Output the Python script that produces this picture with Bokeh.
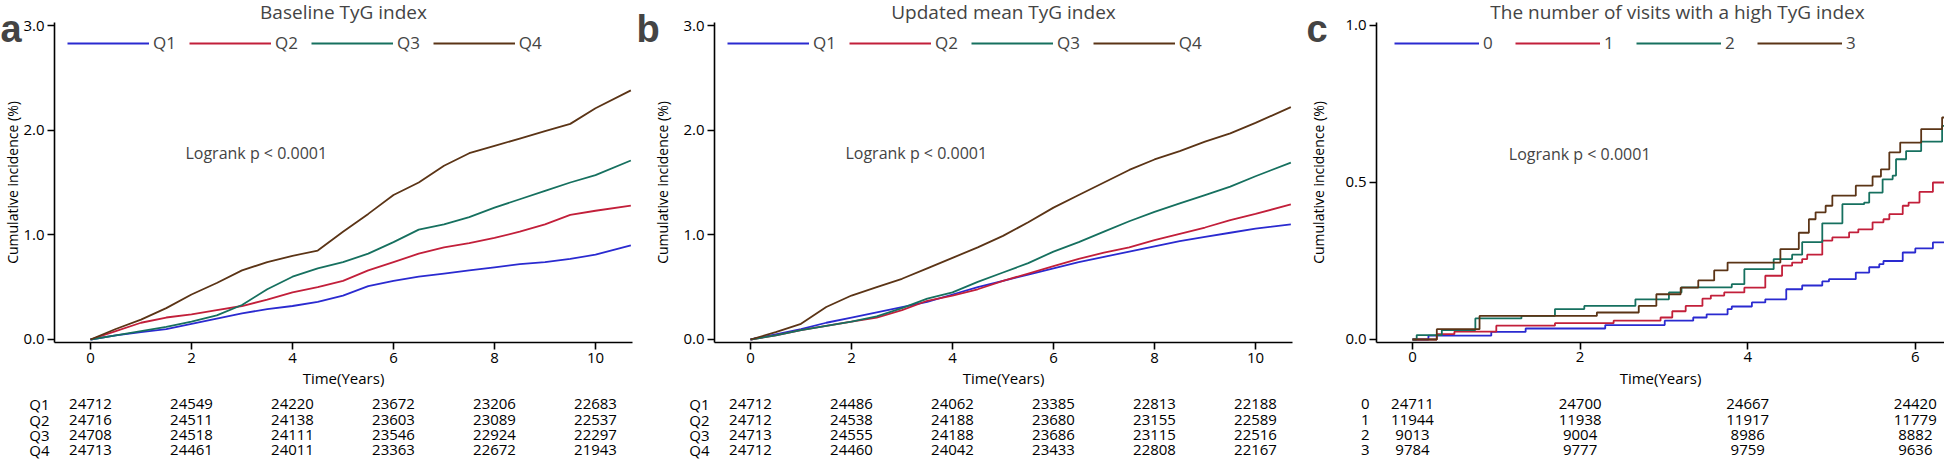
from bokeh.plotting import figure
from bokeh.models import (Range1d, Legend, LegendItem, Label, FixedTicker, LinearAxis,
                          ColumnDataSource, NumeralTickFormatter)
from bokeh.layouts import row
from bokeh.embed import file_html
from bokeh.resources import INLINE
from bokeh.core.properties import value

FONT = "Open Sans"
COLORS = ["#2a2ad0", "#c21f3a", "#16705f", "#5b3416"]
H = 460

# ---------------- Panel a: Baseline TyG index ----------------
a_title = "Baseline TyG index"
a_groups = ["Q1", "Q2", "Q3", "Q4"]
a_time = [0, 0.5, 1, 1.5, 2, 2.5, 3, 3.5, 4, 4.5, 5, 5.5, 6, 6.5, 7, 7.5, 8, 8.5, 9, 9.5, 10, 10.7]
a_q1 = [0, 0.04, 0.07, 0.10, 0.15, 0.20, 0.25, 0.29, 0.32, 0.36, 0.42, 0.51, 0.56, 0.60, 0.63, 0.66, 0.69, 0.72, 0.74, 0.77, 0.81, 0.90]
a_q2 = [0, 0.08, 0.16, 0.21, 0.24, 0.28, 0.32, 0.38, 0.45, 0.50, 0.56, 0.66, 0.74, 0.82, 0.88, 0.92, 0.97, 1.03, 1.10, 1.19, 1.23, 1.28]
a_q3 = [0, 0.04, 0.08, 0.12, 0.17, 0.23, 0.33, 0.48, 0.60, 0.68, 0.74, 0.82, 0.93, 1.05, 1.10, 1.17, 1.26, 1.34, 1.42, 1.50, 1.57, 1.71]
a_q4 = [0, 0.10, 0.19, 0.30, 0.43, 0.54, 0.66, 0.74, 0.80, 0.85, 1.03, 1.20, 1.38, 1.50, 1.66, 1.78, 1.85, 1.92, 1.99, 2.06, 2.21, 2.38]
a_risk_time = [0, 2, 4, 6, 8, 10]
a_risk_q1 = [24712, 24549, 24220, 23672, 23206, 22683]
a_risk_q2 = [24716, 24511, 24138, 23603, 23089, 22537]
a_risk_q3 = [24708, 24518, 24111, 23546, 22924, 22297]
a_risk_q4 = [24713, 24461, 24011, 23363, 22672, 21943]

# ---------------- Panel b: Updated mean TyG index ----------------
b_title = "Updated mean TyG index"
b_groups = ["Q1", "Q2", "Q3", "Q4"]
b_time = [0, 0.5, 1, 1.5, 2, 2.5, 3, 3.5, 4, 4.5, 5, 5.5, 6, 6.5, 7, 7.5, 8, 8.5, 9, 9.5, 10, 10.7]
b_q1 = [0, 0.05, 0.10, 0.16, 0.21, 0.26, 0.31, 0.36, 0.43, 0.50, 0.56, 0.62, 0.68, 0.74, 0.79, 0.84, 0.89, 0.94, 0.98, 1.02, 1.06, 1.10]
b_q2 = [0, 0.04, 0.09, 0.13, 0.17, 0.21, 0.28, 0.37, 0.42, 0.48, 0.56, 0.63, 0.70, 0.77, 0.83, 0.88, 0.95, 1.01, 1.07, 1.14, 1.20, 1.29]
b_q3 = [0, 0.04, 0.09, 0.13, 0.17, 0.22, 0.30, 0.39, 0.45, 0.55, 0.64, 0.73, 0.84, 0.93, 1.03, 1.13, 1.22, 1.30, 1.38, 1.46, 1.56, 1.69]
b_q4 = [0, 0.07, 0.15, 0.31, 0.42, 0.50, 0.58, 0.68, 0.78, 0.88, 0.99, 1.12, 1.26, 1.38, 1.50, 1.62, 1.72, 1.80, 1.89, 1.97, 2.07, 2.22]
b_risk_time = [0, 2, 4, 6, 8, 10]
b_risk_q1 = [24712, 24486, 24062, 23385, 22813, 22188]
b_risk_q2 = [24712, 24538, 24188, 23680, 23155, 22589]
b_risk_q3 = [24713, 24555, 24188, 23686, 23115, 22516]
b_risk_q4 = [24712, 24460, 24042, 23433, 22808, 22167]

# ---------------- Panel c: number of visits with a high TyG index ----------------
c_title = "The number of visits with a high TyG index"
c_groups = ["0", "1", "2", "3"]
c0_time = [0, 0.19, 0.94, 1.35, 2.3, 3.01, 3.35, 3.51, 3.76, 3.81, 4.05, 4.21, 4.46, 4.65, 4.89, 4.97, 5.29, 5.45, 5.57, 5.62, 5.85, 6.0, 6.21, 6.36, 6.5]
c0_val = [0, 0.012, 0.024, 0.035, 0.046, 0.060, 0.070, 0.080, 0.097, 0.105, 0.118, 0.128, 0.160, 0.172, 0.185, 0.192, 0.213, 0.230, 0.240, 0.250, 0.277, 0.290, 0.309, 0.317, 0.320]
c1_time = [0, 0.29, 0.5, 1.0, 1.7, 2.4, 2.96, 3.1, 3.26, 3.46, 3.56, 3.72, 3.96, 4.21, 4.41, 4.53, 4.65, 4.71, 4.89, 5.01, 5.21, 5.32, 5.49, 5.62, 5.69, 5.85, 5.92, 6.05, 6.21, 6.36, 6.5]
c1_val = [0, 0.017, 0.025, 0.044, 0.052, 0.060, 0.070, 0.090, 0.107, 0.130, 0.140, 0.150, 0.165, 0.203, 0.235, 0.245, 0.256, 0.270, 0.315, 0.325, 0.341, 0.351, 0.373, 0.383, 0.399, 0.426, 0.436, 0.470, 0.500, 0.521, 0.530]
c2_time = [0, 0.05, 0.35, 0.75, 1.3, 1.7, 2.05, 2.66, 3.06, 3.21, 3.81, 3.96, 4.31, 4.53, 4.65, 4.89, 5.13, 5.39, 5.45, 5.61, 5.73, 5.77, 5.89, 6.07, 6.32, 6.5]
c2_val = [0, 0.014, 0.030, 0.067, 0.075, 0.097, 0.107, 0.128, 0.150, 0.166, 0.176, 0.224, 0.256, 0.270, 0.310, 0.370, 0.431, 0.436, 0.468, 0.510, 0.522, 0.574, 0.600, 0.630, 0.680, 0.700]
c3_time = [0, 0.29, 0.8, 2.2, 2.7, 2.91, 3.2, 3.41, 3.6, 3.76, 4.39, 4.61, 4.73, 4.81, 4.93, 5.01, 5.29, 5.49, 5.59, 5.69, 5.82, 6.07, 6.32, 6.45]
c3_val = [0, 0.033, 0.075, 0.086, 0.107, 0.144, 0.165, 0.188, 0.220, 0.245, 0.288, 0.340, 0.383, 0.405, 0.426, 0.458, 0.490, 0.519, 0.542, 0.596, 0.627, 0.670, 0.707, 0.755]
c_risk_time = [0, 2, 4, 6]
c_risk_0 = [24711, 24700, 24667, 24420]
c_risk_1 = [11944, 11938, 11917, 11779]
c_risk_2 = [9013, 9004, 8986, 8882]
c_risk_3 = [9784, 9777, 9759, 9636]

logrank_text = "Logrank p < 0.0001"


def make_panel(cfg):
    W = cfg["width"]
    p = figure(width=W, height=H, x_range=cfg["x_range"], y_range=cfg["y_range"],
               x_axis_location=None, y_axis_location=None,
               toolbar_location=None, output_backend="svg",
               min_border_left=0, min_border_right=0,
               min_border_top=0, min_border_bottom=0)
    p.outline_line_color = None
    p.background_fill_color = "white"
    p.border_fill_color = "white"
    p.xgrid.visible = False
    p.ygrid.visible = False
    # helper ranges: "px" = pixel layout of the panel, "table" = at-risk table rows
    p.extra_x_ranges = {"px": Range1d(0, W)}
    p.extra_y_ranges = {"px": Range1d(H, 0), "table": Range1d(0.2667, 30.933)}

    x_lo, x_hi = cfg["x_bounds"]
    y_lo, y_hi = cfg["y_bounds"]

    items = []
    for (xs, ys), name, color in zip(cfg["series"], cfg["groups"], COLORS):
        if cfg["step"]:
            r = p.step(xs, ys, mode="after", line_color=color, line_width=1.8)
        else:
            r = p.line(xs, ys, line_color=color, line_width=1.8)
        items.append(LegendItem(label=name, renderers=[r]))

    legend = Legend(items=items, orientation="horizontal", location=cfg["legend_loc"],
                    glyph_width=cfg["glyph_width"], glyph_height=18, label_standoff=4,
                    spacing=cfg["legend_spacing"], padding=0, margin=0,
                    label_text_font=FONT, label_text_font_size="17px",
                    border_line_color=None, background_fill_alpha=0)
    p.add_layout(legend)

    xa = LinearAxis(fixed_location=y_lo, bounds=(x_lo, x_hi),
                    ticker=FixedTicker(ticks=cfg["x_ticks"]), axis_label="Time(Years)")
    ya = LinearAxis(fixed_location=x_lo, bounds=(y_lo, y_hi),
                    ticker=FixedTicker(ticks=cfg["y_ticks"]),
                    formatter=NumeralTickFormatter(format="0.0"),
                    axis_label="Cumulative incidence (%)")
    for ax in (xa, ya):
        ax.axis_line_width = 1.6
        ax.axis_line_color = "black"
        ax.major_tick_line_width = 1.6
        ax.major_tick_line_color = "black"
        ax.major_tick_out = 7
        ax.major_tick_in = 0
        ax.minor_tick_line_color = None
        ax.major_label_text_font = FONT
        ax.major_label_text_font_size = "15px"
        ax.major_label_text_color = "black"
        ax.axis_label_text_font = FONT
        ax.axis_label_text_font_style = "normal"
        ax.axis_label_text_color = "black"
    xa.major_label_standoff = 3
    xa.axis_label_text_font_size = "15px"
    xa.axis_label_standoff = 2
    ya.major_label_standoff = 3
    ya.axis_label_text_font_size = "14px"
    ya.axis_label_standoff = cfg["ylab_standoff"]
    p.add_layout(xa, "below")
    p.add_layout(ya, "left")

    # title and panel letter
    p.add_layout(Label(x=cfg["title_x"], y=11, x_range_name="px", y_range_name="px",
                       text=cfg["title"], text_font=FONT, text_font_size="19px",
                       text_align="center", text_baseline="middle"))
    p.add_layout(Label(x=0, y=28, x_range_name="px", y_range_name="px",
                       text=cfg["letter"], text_font="Liberation Sans",
                       text_font_style="bold", text_font_size="38px",
                       text_align="left", text_baseline="alphabetic"))
    p.add_layout(Label(x=cfg["logrank_xy"][0], y=cfg["logrank_xy"][1], text=logrank_text,
                       text_font=FONT, text_font_size="16px",
                       text_baseline="middle", text_align="left"))

    # number-at-risk table
    rows_y = [4, 3, 2, 1]
    xs, ys, txt = [], [], []
    for counts, yv in zip(cfg["risk_rows"], rows_y):
        for tt, cnt in zip(cfg["risk_time"], counts):
            xs.append(tt)
            ys.append(yv)
            txt.append(str(cnt))
    src = ColumnDataSource(dict(x=xs, y=ys, text=txt))
    p.text(x="x", y="y", text="text", source=src, y_range_name="table",
           text_align="center", text_baseline="middle", text_font_size="15px",
           text_color="black", text_font=value(FONT))
    lab = ColumnDataSource(dict(x=[cfg["rowlab_x"]] * 4, y=rows_y, text=cfg["groups"]))
    p.text(x="x", y="y", text="text", source=lab, x_range_name="px", y_range_name="table",
           text_align="right", text_baseline="middle", text_font_size="15px",
           text_color="black", text_font=value(FONT))
    return p


pa = make_panel(dict(
    letter="a", title=a_title, groups=a_groups, step=False, width=636,
    series=[(a_time, a_q1), (a_time, a_q2), (a_time, a_q3), (a_time, a_q4)],
    x_range=Range1d(-1.7822, 10.8119), y_range=Range1d(-1.1561, 3.2389),
    x_bounds=(-0.7129, 10.733), y_bounds=(-0.0287, 3.0287),
    x_ticks=a_risk_time, y_ticks=[0, 1, 2, 3],
    risk_time=a_risk_time, risk_rows=[a_risk_q1, a_risk_q2, a_risk_q3, a_risk_q4],
    logrank_xy=(1.88, 1.78), title_x=343, legend_loc=(67, 406),
    glyph_width=82, legend_spacing=13, rowlab_x=49, ylab_standoff=-2))
pb = make_panel(dict(
    letter="b", title=b_title, groups=b_groups, step=False, width=670,
    series=[(b_time, b_q1), (b_time, b_q2), (b_time, b_q3), (b_time, b_q4)],
    x_range=Range1d(-2.2574, 11.0099), y_range=Range1d(-1.1561, 3.2389),
    x_bounds=(-0.7129, 10.733), y_bounds=(-0.0287, 3.0287),
    x_ticks=b_risk_time, y_ticks=[0, 1, 2, 3],
    risk_time=b_risk_time, risk_rows=[b_risk_q1, b_risk_q2, b_risk_q3, b_risk_q4],
    logrank_xy=(1.88, 1.78), title_x=367, legend_loc=(91, 406),
    glyph_width=82, legend_spacing=13, rowlab_x=73, ylab_standoff=8))
pc = make_panel(dict(
    letter="c", title=c_title, groups=c_groups, step=True, width=638,
    series=[(c0_time, c0_val), (c1_time, c1_val), (c2_time, c2_val), (c3_time, c3_val)],
    x_range=Range1d(-1.2649, 6.3484), y_range=Range1d(-0.3854, 1.0796),
    x_bounds=(-0.4296, 6.3484), y_bounds=(-0.00955, 1.00955),
    x_ticks=c_risk_time, y_ticks=[0, 0.5, 1.0],
    risk_time=c_risk_time, risk_rows=[c_risk_0, c_risk_1, c_risk_2, c_risk_3],
    logrank_xy=(1.15, 0.59), title_x=371, legend_loc=(88, 406),
    glyph_width=85, legend_spacing=12, rowlab_x=63, ylab_standoff=14))

layout = row(pa, pb, pc, spacing=0)
open("out.html", "w").write(file_html(layout, INLINE))
